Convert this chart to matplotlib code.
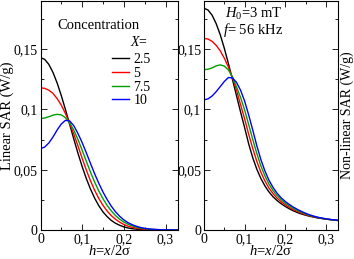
import matplotlib
matplotlib.use("Agg")
import matplotlib.pyplot as plt
from matplotlib.ticker import FixedLocator, FixedFormatter, MultipleLocator

plt.rcParams["font.family"] = ["Liberation Serif", "DejaVu Serif"]
plt.rcParams["mathtext.fontset"] = "custom"
plt.rcParams["mathtext.rm"] = "Liberation Serif"
plt.rcParams["mathtext.it"] = "Liberation Serif:italic"

# reduced distance h = x/2sigma
h = [0.00, 0.01, 0.02, 0.03, 0.04, 0.05, 0.06, 0.07, 0.08, 0.09,
     0.10, 0.11, 0.12, 0.13, 0.14, 0.15, 0.16, 0.17, 0.18, 0.19,
     0.20, 0.21, 0.22, 0.23, 0.24, 0.25, 0.26, 0.27, 0.28, 0.29,
     0.30, 0.31, 0.32, 0.33]

labels = ["2.5", "5", "7.5", "10"]
colors = ["black", "#ff0000", "#00a000", "#0000ff"]

# Linear SAR (W/g)
lin_25 = [0.1430, 0.1416, 0.1374, 0.1307, 0.1219, 0.1114, 0.0998, 0.0876, 0.0754, 0.0636,
          0.0526, 0.0426, 0.0339, 0.0264, 0.0201, 0.0150, 0.0111, 0.0079, 0.0056, 0.0039,
          0.0026, 0.0017, 0.0011, 0.0007, 0.0005, 0.0003, 0.0002, 0.0001, 0.0001, 0.0000,
          0.0000, 0.0000, 0.0000, 0.0000]
lin_5 = [0.1180, 0.1175, 0.1160, 0.1133, 0.1090, 0.1035, 0.0965, 0.0885, 0.0795, 0.0697,
         0.0595, 0.0497, 0.0408, 0.0329, 0.0261, 0.0204, 0.0157, 0.0119, 0.0089, 0.0065,
         0.0046, 0.0032, 0.0022, 0.0015, 0.0010, 0.0006, 0.0004, 0.0003, 0.0002, 0.0001,
         0.0001, 0.0000, 0.0000, 0.0000]
lin_75 = [0.0925, 0.0929, 0.0940, 0.0953, 0.0960, 0.0955, 0.0932, 0.0890, 0.0828, 0.0750,
          0.0662, 0.0570, 0.0480, 0.0397, 0.0323, 0.0259, 0.0204, 0.0158, 0.0120, 0.0090,
          0.0066, 0.0048, 0.0034, 0.0024, 0.0016, 0.0011, 0.0007, 0.0005, 0.0003, 0.0002,
          0.0001, 0.0001, 0.0000, 0.0000]
lin_10 = [0.0675, 0.0688, 0.0722, 0.0772, 0.0830, 0.0880, 0.0910, 0.0905, 0.0865, 0.0800,
          0.0725, 0.0640, 0.0552, 0.0466, 0.0387, 0.0315, 0.0252, 0.0197, 0.0151, 0.0114,
          0.0084, 0.0061, 0.0044, 0.0031, 0.0021, 0.0014, 0.0009, 0.0006, 0.0004, 0.0002,
          0.0001, 0.0001, 0.0000, 0.0000]

# Non-linear SAR (W/g)
nl_25 = [0.1840, 0.1825, 0.1782, 0.1712, 0.1620, 0.1508, 0.1382, 0.1250, 0.1115, 0.0980,
         0.0850, 0.0715, 0.0600, 0.0505, 0.0428, 0.0366, 0.0316, 0.0276, 0.0244, 0.0218,
         0.0196, 0.0176, 0.0159, 0.0145, 0.0133, 0.0123, 0.0114, 0.0107, 0.0100, 0.0095,
         0.0090, 0.0086, 0.0082, 0.0079]
nl_5 = [0.1590, 0.1584, 0.1565, 0.1532, 0.1486, 0.1426, 0.1352, 0.1265, 0.1160, 0.1040,
        0.0923, 0.0795, 0.0677, 0.0570, 0.0480, 0.0407, 0.0348, 0.0302, 0.0264, 0.0234,
        0.0210, 0.0188, 0.0169, 0.0154, 0.0140, 0.0128, 0.0118, 0.0110, 0.0102, 0.0097,
        0.0091, 0.0087, 0.0083, 0.0079]
nl_75 = [0.1330, 0.1334, 0.1345, 0.1362, 0.1370, 0.1360, 0.1328, 0.1270, 0.1188, 0.1100,
         0.0997, 0.0875, 0.0753, 0.0635, 0.0533, 0.0449, 0.0381, 0.0327, 0.0285, 0.0251,
         0.0223, 0.0200, 0.0180, 0.0162, 0.0147, 0.0134, 0.0122, 0.0113, 0.0104, 0.0098,
         0.0092, 0.0087, 0.0083, 0.0080]
nl_10 = [0.1080, 0.1088, 0.1112, 0.1148, 0.1190, 0.1232, 0.1265, 0.1262, 0.1225, 0.1160,
         0.1070, 0.0955, 0.0830, 0.0700, 0.0585, 0.0490, 0.0413, 0.0353, 0.0305, 0.0267,
         0.0237, 0.0212, 0.0190, 0.0171, 0.0154, 0.0139, 0.0126, 0.0115, 0.0106, 0.0099,
         0.0093, 0.0088, 0.0084, 0.0080]

xticks = [0, 0.1, 0.2, 0.3]
xticklabels = ["0", "0,1", "0,2", "0,3"]
yticks = [0, 0.05, 0.1, 0.15]
yticklabels = ["0", "0,05", "0,1", "0,15"]

fig = plt.figure(figsize=(3.54, 2.59), dpi=100)
ax1 = fig.add_axes([40.5 / 354, 29 / 259, 137.5 / 354, 229 / 259])
ax2 = fig.add_axes([204 / 354, 29 / 259, 134 / 354, 229 / 259])

fs = 10
for ax, series in [(ax1, [lin_25, lin_5, lin_75, lin_10]),
                   (ax2, [nl_25, nl_5, nl_75, nl_10])]:
    for y, c, lab in zip(series, colors, labels):
        ax.plot(h, y, color=c, lw=1.0, label=lab)
    ax.set_xlim(0, 0.33)
    ax.set_ylim(0, 0.19)
    ax.xaxis.set_major_locator(FixedLocator(xticks))
    ax.xaxis.set_major_formatter(FixedFormatter(xticklabels))
    ax.yaxis.set_major_locator(FixedLocator(yticks))
    ax.yaxis.set_major_formatter(FixedFormatter(yticklabels))
    ax.xaxis.set_minor_locator(MultipleLocator(0.05))
    ax.yaxis.set_minor_locator(MultipleLocator(0.025))
    ax.tick_params(which="both", direction="in", top=True, right=True,
                   labelsize=fs, width=0.6, pad=2)
    ax.tick_params(which="major", length=4)
    ax.tick_params(which="minor", length=2)
    for sp in ax.spines.values():
        sp.set_linewidth(0.8)
    ax.set_xlabel(r"$h$=$x$/2σ", fontsize=10.5, labelpad=-1)

ax1.set_ylabel("Linear SAR (W/g)", fontsize=10.5, labelpad=0)
ax2.set_ylabel("Non-linear SAR (W/g)", fontsize=fs, labelpad=2)
ax2.yaxis.set_label_position("right")

ax1.text(0.12, 0.878, "Concentration", transform=ax1.transAxes, fontsize=10.5)
ax1.text(0.65, 0.803, r"$X$=", transform=ax1.transAxes, fontsize=fs)
ax1.legend(loc="upper left", bbox_to_anchor=(0.52, 0.772), frameon=False,
           fontsize=fs, handlelength=1.2, handletextpad=0.35,
           labelspacing=0.05, borderpad=0.0, borderaxespad=0.0)

ax2.text(0.157, 0.926, r"$H_0$=3 mT", transform=ax2.transAxes, fontsize=10.5)
ax2.text(0.14, 0.856, r"$f$= 56 kHz", transform=ax2.transAxes, fontsize=10.5)

fig.savefig("out.png", dpi=100)
